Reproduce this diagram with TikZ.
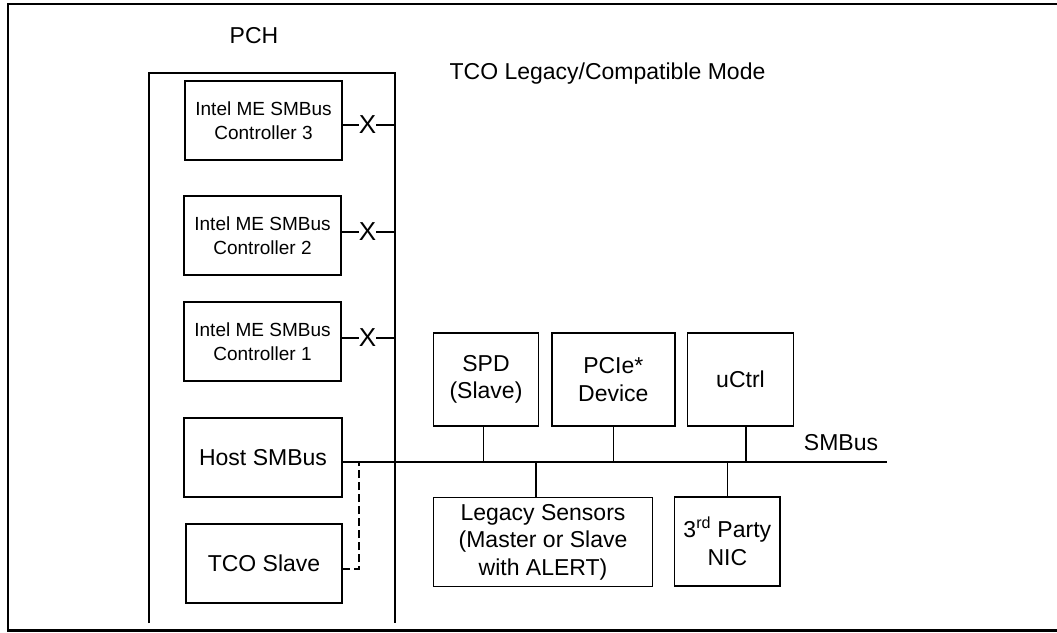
\documentclass[tikz,border=0pt]{standalone}
\usepackage{fontspec}
\setmainfont{Liberation Sans}
\begin{document}
\begin{tikzpicture}[x=1pt,y=-1pt,
  line width=1.4pt,
  every node/.style={inner sep=0pt, outer sep=0pt},
  big/.style={font=\fontsize{23}{27.5}\selectfont},
  small/.style={font=\fontsize{19}{24.3}\selectfont},
  xmark/.style={font=\fontsize{26}{30}\selectfont},
  box/.style={draw, align=center, big},
  mebox/.style={draw, align=center, small, minimum width=157pt, minimum height=79pt},
  tap/.style={line width=1.4pt},
  tcoline/.style={line width=2pt, dash pattern=on 8pt off 4pt}
]
\useasboundingbox (0,0) rectangle (1057,632);
% outer frame
\draw[line width=2.4pt] (1065,4) -- (8,4) -- (8,630.5) -- (1065,630.5);
% PCH outline
\coordinate (pchbl) at (149,623);
\coordinate (pchtl) at (149,73);
\coordinate (pchtr) at (395,73);
\coordinate (pchbr) at (395,623);
\draw (pchbl) -- (pchtl) -- (pchtr) -- (pchbr);
\node[big] (pch) at (254,36) {PCH};
\node[big] (title) at (607.5,74) {TCO Legacy/Compatible Mode};

% ME controllers
\node[mebox] (c3) at (263.5,120.5) {Intel ME SMBus\\Controller 3};
\node[mebox] (c2) at (262.5,235.5) {Intel ME SMBus\\Controller 2};
\node[mebox] (c1) at (262.5,341.5) {Intel ME SMBus\\Controller 1};
\node[xmark] (x3) at (367.5,125) {X};
\node[xmark] (x2) at (367.5,232) {X};
\node[xmark] (x1) at (367.5,338) {X};
\draw (c3.east |- x3) -- (x3.west);
\draw (x3.east) -- (x3 -| pchtr);
\draw (c2.east |- x2) -- (x2.west);
\draw (x2.east) -- (x2 -| pchtr);
\draw (c1.east |- x1) -- (x1.west);
\draw (x1.east) -- (x1 -| pchtr);

% host and TCO
\node[box, minimum width=158pt, minimum height=79pt] (host) at (263,457.5) {Host SMBus};
\node[box, minimum width=156pt, minimum height=79pt] (tco) at (264,563.5) {TCO Slave};

% bus
\coordinate (busend) at (887,462);
\coordinate (junc) at (359.3,462);
\draw (host.east |- busend) -- (busend);
\node[big] (smbus) at (841,443) {SMBus};
\draw[tcoline] (tco.east |- 0,568.7) -| (junc);

% devices above the bus
\node[box, minimum width=105pt, minimum height=93pt] (spd) at (486,379.5) {SPD\\(Slave)};
\node[box, minimum width=123pt, minimum height=93pt] (pcie) at (613.3,379.5) {PCIe*\\Device};
\node[box, minimum width=105.5pt, minimum height=93pt] (uctrl) at (740.5,379.5) {uCtrl};
\coordinate (tspd) at (483.3,462);
\coordinate (tpcie) at (613.3,462);
\coordinate (tuctrl) at (746,462);
\draw[tap] (spd.south -| tspd) -- (tspd);
\draw[tap] (pcie.south -| tpcie) -- (tpcie);
\draw[tap] (uctrl.south -| tuctrl) -- (tuctrl);

% devices below the bus
\node[box, minimum width=219.5pt, minimum height=89.5pt] (legacy) at (543,542) {Legacy Sensors\\(Master or Slave\\with ALERT)};
\node[box, minimum width=105.5pt, minimum height=89pt] (nic) at (727.3,541.5) {3\textsuperscript{rd} Party\\NIC};
\coordinate (tleg) at (536,462);
\coordinate (tnic) at (727.3,462);
\draw[tap] (tleg) -- (legacy.north -| tleg);
\draw[tap] (tnic) -- (nic.north);
\end{tikzpicture}
\end{document}
